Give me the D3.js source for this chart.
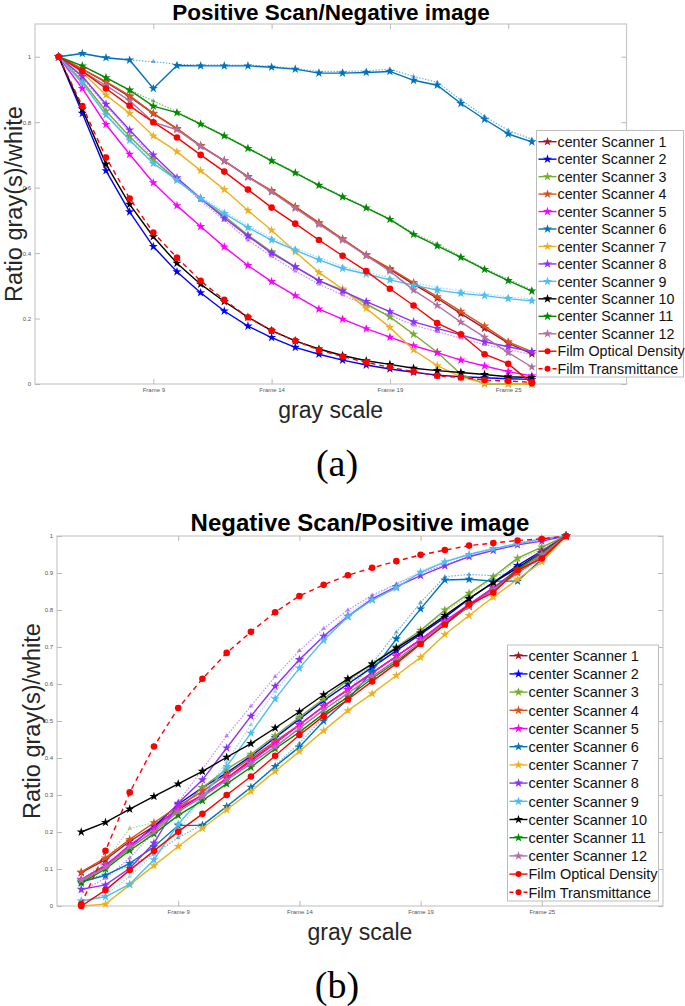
<!DOCTYPE html>
<html>
<head>
<meta charset="utf-8">
<script src="https://cdn.jsdelivr.net/npm/d3@7"></script>
<style>
  body { margin: 0; background: #fff; }
  svg { display: block; font-family: "Liberation Sans", Arial, sans-serif; }
</style>
</head>
<body>
<div id="chart"></div>
<script>
// x positions of the 21 measured steps, and the frame ticks
const steps = d3.range(1, 22);
const tickPos = [5, 10, 15, 20];
const tickLabels = ["Frame 9", "Frame 14", "Frame 19", "Frame 25"];

const seriesNames = ["center Scanner 1", "center Scanner 2", "center Scanner 3", "center Scanner 4",
  "center Scanner 5", "center Scanner 6", "center Scanner 7", "center Scanner 8", "center Scanner 9",
  "center Scanner 10", "center Scanner 11", "center Scanner 12", "Film Optical Density", "Film Transmittance"];
const seriesColors = ["#A2142F", "#0000FF", "#77AC30", "#D95319", "#FF00FF", "#0072BD", "#EDB120",
  "#8F2FFF", "#4DBEEE", "#000000", "#008A00", "#B070A0", "#FF0000", "#FF0000"];

// (a) Positive scan / negative image
const posS1  = [1, 0.962, 0.922, 0.878, 0.826, 0.78, 0.728, 0.682, 0.634, 0.589, 0.541, 0.492, 0.443, 0.394, 0.35, 0.305, 0.262, 0.215, 0.17, 0.125, 0.092];
const posS2  = [1, 0.827, 0.652, 0.526, 0.42, 0.343, 0.279, 0.223, 0.177, 0.142, 0.112, 0.091, 0.073, 0.058, 0.046, 0.036, 0.027, 0.022, 0.019, 0.016, 0.014];
const posS3  = [1, 0.926, 0.834, 0.756, 0.686, 0.623, 0.567, 0.513, 0.455, 0.404, 0.358, 0.316, 0.287, 0.245, 0.205, 0.152, 0.097, 0.03, 0, 0, 0];
const posS4  = [1, 0.962, 0.924, 0.881, 0.827, 0.781, 0.728, 0.682, 0.633, 0.591, 0.542, 0.493, 0.443, 0.394, 0.353, 0.31, 0.267, 0.222, 0.177, 0.129, 0.099];
const posS5  = [1, 0.903, 0.793, 0.702, 0.615, 0.545, 0.481, 0.419, 0.362, 0.313, 0.27, 0.229, 0.198, 0.169, 0.143, 0.117, 0.096, 0.073, 0.055, 0.038, 0.025];
const posS6  = [1, 1.01, 0.997, 0.99, 0.903, 0.973, 0.972, 0.972, 0.972, 0.968, 0.962, 0.95, 0.95, 0.952, 0.955, 0.928, 0.913, 0.857, 0.809, 0.764, 0.74];
const posS7  = [1, 0.952, 0.883, 0.827, 0.758, 0.71, 0.652, 0.594, 0.53, 0.47, 0.404, 0.341, 0.29, 0.231, 0.173, 0.104, 0.056, 0.022, 0.002, 0, 0];
const posS8  = [1, 0.94, 0.855, 0.776, 0.7, 0.63, 0.567, 0.507, 0.452, 0.4, 0.358, 0.316, 0.284, 0.252, 0.221, 0.19, 0.17, 0.15, 0.129, 0.114, 0.099];
const posS9  = [1, 0.92, 0.822, 0.745, 0.674, 0.623, 0.567, 0.521, 0.478, 0.44, 0.409, 0.379, 0.353, 0.336, 0.318, 0.302, 0.287, 0.277, 0.27, 0.261, 0.254];
const posS10 = [1, 0.84, 0.672, 0.549, 0.45, 0.369, 0.305, 0.252, 0.204, 0.163, 0.132, 0.107, 0.087, 0.071, 0.06, 0.048, 0.041, 0.035, 0.029, 0.022, 0.02];
const posS11 = [1, 0.972, 0.936, 0.898, 0.849, 0.829, 0.794, 0.758, 0.72, 0.682, 0.645, 0.607, 0.572, 0.538, 0.503, 0.457, 0.422, 0.387, 0.35, 0.316, 0.284];
const posS12 = [1, 0.955, 0.912, 0.866, 0.8, 0.777, 0.726, 0.682, 0.632, 0.587, 0.537, 0.488, 0.44, 0.392, 0.345, 0.287, 0.24, 0.189, 0.143, 0.096, 0.052];
const posOD  = [1, 0.956, 0.903, 0.85, 0.8, 0.753, 0.7, 0.649, 0.594, 0.539, 0.49, 0.44, 0.392, 0.345, 0.291, 0.24, 0.186, 0.152, 0.091, 0.062, 0.002];
const posTR  = [1, 0.849, 0.692, 0.567, 0.463, 0.386, 0.315, 0.257, 0.204, 0.163, 0.132, 0.104, 0.084, 0.066, 0.051, 0.038, 0.025, 0.02, 0.012, 0.009, 0.005];
// repeated readings drawn dotted
const posS6rep = [1, 1.01, 0.997, 0.99, 0.985, 0.977, 0.975, 0.975, 0.974, 0.971, 0.964, 0.955, 0.955, 0.957, 0.962, 0.94, 0.922, 0.868, 0.818, 0.775, 0.748];
const posS8rep = [1, 0.935, 0.85, 0.77, 0.69, 0.625, 0.56, 0.5, 0.44, 0.39, 0.345, 0.305, 0.272, 0.24, 0.21, 0.18, 0.16, 0.14, 0.12, 0.105, 0.09];
const posS9rep = [1, 0.92, 0.825, 0.75, 0.68, 0.628, 0.572, 0.527, 0.484, 0.447, 0.415, 0.386, 0.36, 0.342, 0.325, 0.31, 0.295, 0.285, 0.275, 0.266, 0.26];
const posS11rep = [1, 0.972, 0.936, 0.898, 0.865, 0.832, 0.796, 0.76, 0.722, 0.684, 0.647, 0.609, 0.574, 0.54, 0.505, 0.46, 0.428, 0.39, 0.353, 0.32, 0.288];

// (b) Negative scan / positive image
const negS1  = [0.09, 0.125, 0.175, 0.215, 0.26, 0.3, 0.345, 0.395, 0.44, 0.49, 0.54, 0.585, 0.63, 0.675, 0.72, 0.765, 0.815, 0.86, 0.905, 0.95, 1];
const negS2  = [0.07, 0.11, 0.16, 0.215, 0.275, 0.32, 0.36, 0.405, 0.455, 0.505, 0.555, 0.6, 0.645, 0.69, 0.735, 0.78, 0.83, 0.875, 0.92, 0.96, 1];
const negS3  = [0.065, 0.105, 0.155, 0.205, 0.26, 0.32, 0.37, 0.41, 0.46, 0.51, 0.56, 0.61, 0.655, 0.7, 0.745, 0.8, 0.845, 0.89, 0.94, 0.97, 1];
const negS4  = [0.092, 0.13, 0.18, 0.225, 0.27, 0.31, 0.355, 0.4, 0.445, 0.49, 0.54, 0.585, 0.63, 0.675, 0.72, 0.765, 0.81, 0.855, 0.9, 0.945, 1];
const negS5  = [0.072, 0.11, 0.165, 0.21, 0.265, 0.3, 0.345, 0.39, 0.44, 0.49, 0.54, 0.585, 0.63, 0.675, 0.72, 0.77, 0.815, 0.86, 0.91, 0.96, 1];
const negS6  = [0.065, 0.083, 0.115, 0.16, 0.218, 0.218, 0.269, 0.321, 0.377, 0.43, 0.5, 0.558, 0.634, 0.722, 0.803, 0.881, 0.883, 0.878, 0.878, 0.937, 1];
const negS7  = [0, 0.005, 0.057, 0.109, 0.161, 0.21, 0.26, 0.31, 0.364, 0.418, 0.474, 0.528, 0.574, 0.623, 0.672, 0.734, 0.785, 0.835, 0.883, 0.93, 1];
const negS8  = [0.045, 0.057, 0.102, 0.17, 0.278, 0.341, 0.427, 0.513, 0.594, 0.666, 0.729, 0.783, 0.83, 0.863, 0.893, 0.919, 0.944, 0.961, 0.976, 0.986, 1];
const negS9  = [0.014, 0.025, 0.059, 0.125, 0.221, 0.295, 0.377, 0.467, 0.56, 0.643, 0.718, 0.782, 0.827, 0.86, 0.902, 0.93, 0.95, 0.966, 0.979, 0.993, 1];
const negS10 = [0.2, 0.226, 0.262, 0.296, 0.33, 0.364, 0.402, 0.439, 0.481, 0.525, 0.571, 0.614, 0.654, 0.697, 0.738, 0.785, 0.831, 0.874, 0.914, 0.955, 1];
const negS11 = [0.062, 0.1, 0.15, 0.195, 0.245, 0.285, 0.33, 0.375, 0.425, 0.47, 0.52, 0.565, 0.615, 0.66, 0.71, 0.76, 0.81, 0.855, 0.91, 0.955, 1];
const negS12 = [0.07, 0.105, 0.16, 0.2, 0.255, 0.295, 0.34, 0.385, 0.43, 0.48, 0.53, 0.575, 0.62, 0.665, 0.715, 0.765, 0.81, 0.855, 0.905, 0.95, 1];
const negOD  = [0, 0.043, 0.097, 0.149, 0.201, 0.249, 0.3, 0.35, 0.406, 0.462, 0.513, 0.558, 0.607, 0.655, 0.708, 0.761, 0.815, 0.847, 0.908, 0.939, 1];
const negTR  = [0.005, 0.149, 0.307, 0.431, 0.535, 0.614, 0.684, 0.741, 0.794, 0.838, 0.868, 0.894, 0.914, 0.932, 0.949, 0.962, 0.974, 0.981, 0.988, 0.992, 1];
const negS6rep = [0.07, 0.085, 0.11, 0.14, 0.185, 0.22, 0.27, 0.32, 0.38, 0.44, 0.51, 0.58, 0.655, 0.74, 0.82, 0.89, 0.896, 0.893, 0.9, 0.94, 1];
const negS8rep = [0.04, 0.075, 0.13, 0.2, 0.28, 0.37, 0.46, 0.54, 0.62, 0.69, 0.75, 0.8, 0.84, 0.87, 0.9, 0.922, 0.945, 0.962, 0.976, 0.99, 1];
const negS9rep = [0.01, 0.03, 0.08, 0.14, 0.2, 0.3, 0.39, 0.49, 0.58, 0.66, 0.73, 0.79, 0.835, 0.87, 0.905, 0.932, 0.952, 0.967, 0.98, 0.993, 1];
const negS3rep = [0.07, 0.12, 0.21, 0.225, 0.25, 0.31, 0.36, 0.405, 0.455, 0.505, 0.555, 0.605, 0.65, 0.695, 0.74, 0.795, 0.84, 0.885, 0.935, 0.965, 1];

const width = 685, height = 1006;
const svg = d3.select("#chart").append("svg")
  .attr("width", width)
  .attr("height", height);

const star = d3.symbol().type(d3.symbolStar).size(26);

function drawPanel(cfg) {
  const x = d3.scaleLinear().domain([0, 25]).range([cfg.left, cfg.right]);
  const y = d3.scaleLinear().domain(cfg.yDomain).range([cfg.bottom, cfg.top]);
  const g = svg.append("g");

  // frame and ticks
  g.append("rect")
    .attr("x", cfg.left).attr("y", cfg.top)
    .attr("width", cfg.right - cfg.left).attr("height", cfg.bottom - cfg.top)
    .attr("fill", "none").attr("stroke", "#c8c8c8").attr("stroke-width", 1.2);

  const xAxis = d3.axisBottom(x).tickValues(tickPos).tickFormat((d, i) => tickLabels[i]).tickSize(-5).tickPadding(4);
  const xTop = d3.axisTop(x).tickValues(tickPos).tickFormat("").tickSize(-5);
  const yAxis = d3.axisLeft(y).tickValues(cfg.yTicks).tickFormat(d3.format("")).tickSize(-5).tickPadding(4);
  const yRight = d3.axisRight(y).tickValues(cfg.yTicks).tickFormat("").tickSize(-5);

  [[xAxis, "translate(0," + cfg.bottom + ")"], [xTop, "translate(0," + cfg.top + ")"],
   [yAxis, "translate(" + cfg.left + ",0)"], [yRight, "translate(" + cfg.right + ",0)"]].forEach(([ax, tr]) => {
    const a = g.append("g").attr("transform", tr).call(ax);
    a.select(".domain").remove();
    a.selectAll("line").attr("stroke", "#b8b8b8");
    a.selectAll("text").attr("fill", "#555").style("font-size", "6px");
  });

  const line = d3.line().x((d, i) => x(steps[i])).y(d => y(d));

  // dotted repeat readings underneath
  cfg.reps.forEach(r => {
    g.append("path").datum(r.values)
      .attr("d", line).attr("fill", "none")
      .attr("stroke", seriesColors[r.s]).attr("stroke-opacity", 0.55)
      .attr("stroke-width", 1.2).attr("stroke-dasharray", "1.5,1.5");
    g.selectAll(null).data(r.values).enter().append("path")
      .attr("transform", (d, i) => "translate(" + x(steps[i]) + "," + y(d) + ")")
      .attr("d", d3.symbol().type(d3.symbolTriangle).size(10))
      .attr("fill", seriesColors[r.s]).attr("fill-opacity", 0.55);
  });

  cfg.series.forEach((vals, s) => {
    const col = seriesColors[s];
    g.append("path").datum(vals)
      .attr("d", line).attr("fill", "none")
      .attr("stroke", col).attr("stroke-width", 1.4)
      .attr("stroke-dasharray", s === 13 ? "5,4" : null);
    const pts = g.selectAll(null).data(vals).enter();
    if (s >= 12) {
      pts.append("circle")
        .attr("cx", (d, i) => x(steps[i])).attr("cy", d => y(d))
        .attr("r", 3.3).attr("fill", col);
    } else {
      pts.append("path")
        .attr("transform", (d, i) => "translate(" + x(steps[i]) + "," + y(d) + ")")
        .attr("d", star).attr("fill", col);
    }
  });

  // titles and axis labels
  g.append("text").attr("x", cfg.titleX).attr("y", cfg.titleY)
    .attr("text-anchor", "middle").style("font-size", cfg.titleSize + "px").style("font-weight", "bold")
    .text(cfg.title);
  g.append("text")
    .attr("transform", "translate(" + cfg.yLabelX + "," + (cfg.top + cfg.bottom) / 2 + ") rotate(-90)")
    .attr("text-anchor", "middle").style("font-size", "23.5px").attr("fill", "#262626")
    .text("Ratio gray(s)/white");
  g.append("text").attr("x", (cfg.left + cfg.right) / 2).attr("y", cfg.bottom + 34)
    .attr("text-anchor", "middle").style("font-size", "23px").attr("fill", "#262626")
    .text("gray scale");
  g.append("text").attr("x", 337).attr("y", cfg.bottom + 92)
    .attr("text-anchor", "middle").style("font-family", "'Liberation Serif', serif").style("font-size", "38px")
    .text(cfg.caption);

  // legend
  const L = cfg.legend;
  const lg = g.append("g");
  lg.append("rect").attr("x", L.x).attr("y", L.y).attr("width", L.w).attr("height", L.h)
    .attr("fill", "#fff").attr("stroke", "#bdbdbd").attr("stroke-width", 1);
  const row = lg.selectAll(".legend").data(seriesNames).enter().append("g")
    .attr("class", "legend")
    .attr("transform", (d, i) => "translate(" + L.x + "," + (L.first + i * L.step) + ")");
  row.append("line").attr("x1", 2).attr("x2", 20).attr("y1", 0).attr("y2", 0)
    .attr("stroke", (d, i) => seriesColors[i]).attr("stroke-width", 1.4)
    .attr("stroke-dasharray", (d, i) => i === 13 ? "4,3" : null);
  row.each(function(d, i) {
    const r = d3.select(this);
    if (i >= 12) r.append("circle").attr("cx", 11).attr("cy", 0).attr("r", 3).attr("fill", seriesColors[i]);
    else r.append("path").attr("transform", "translate(11,0)").attr("d", star).attr("fill", seriesColors[i]);
  });
  row.append("text").attr("x", 21).attr("y", 0).attr("dy", "0.36em")
    .style("font-size", L.font + "px").attr("fill", "#111")
    .text(d => d);
}

drawPanel({
  left: 35, right: 626.5, top: 24, bottom: 384,
  yDomain: [0, 1.1], yTicks: [0, 0.2, 0.4, 0.6, 0.8, 1],
  title: "Positive Scan/Negative image", titleX: 331, titleY: 19.5, titleSize: 22.5,
  yLabelX: 22, caption: "(a)",
  series: [posS1, posS2, posS3, posS4, posS5, posS6, posS7, posS8, posS9, posS10, posS11, posS12, posOD, posTR],
  reps: [{s: 5, values: posS6rep}, {s: 7, values: posS8rep}, {s: 8, values: posS9rep}, {s: 10, values: posS11rep}],
  legend: {x: 536.5, y: 130.5, w: 147, h: 246.5, first: 141.7, step: 17.46, font: 14.3}
});

drawPanel({
  left: 57, right: 663, top: 536, bottom: 906,
  yDomain: [0, 1], yTicks: d3.range(0, 1.01, 0.1).map(v => +v.toFixed(1)),
  title: "Negative Scan/Positive image", titleX: 360, titleY: 531, titleSize: 24,
  yLabelX: 40, caption: "(b)",
  series: [negS1, negS2, negS3, negS4, negS5, negS6, negS7, negS8, negS9, negS10, negS11, negS12, negOD, negTR],
  reps: [{s: 5, values: negS6rep}, {s: 7, values: negS8rep}, {s: 8, values: negS9rep}, {s: 2, values: negS3rep}],
  legend: {x: 507.5, y: 645, w: 151, h: 256, first: 655.7, step: 18.2, font: 14.5}
});
</script>
</body>
</html>
